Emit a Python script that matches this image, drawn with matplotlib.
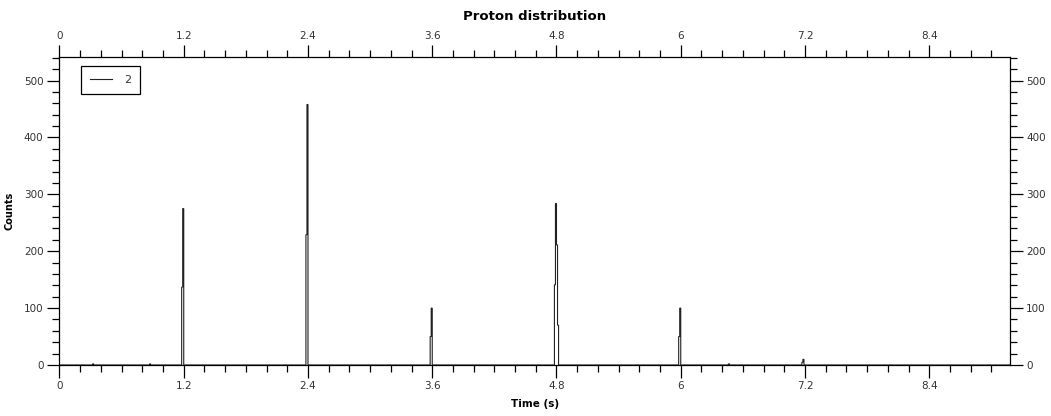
import numpy as np
import matplotlib
matplotlib.use("Agg")
import matplotlib.pyplot as plt
from matplotlib.ticker import MultipleLocator, FixedLocator

# ---- data ----
bin_width = 0.01
t_max = 9.18
# start times (s) of non-empty bins and their counts
bin_starts = [0.32, 0.87,
              1.18, 1.19,
              2.38, 2.39,
              3.58, 3.59,
              4.78, 4.79, 4.80, 4.81,
              5.98, 5.99,
              6.46,
              7.17, 7.18]
bin_counts = [2, 2,
              137, 275,
              229, 458,
              50, 100,
              141, 284, 211, 70,
              50, 100,
              2,
              5, 10]
series_label = "2"
x_ticks = [0, 1.2, 2.4, 3.6, 4.8, 6.0, 7.2, 8.4]
x_tick_labels = ["0", "1.2", "2.4", "3.6", "4.8", "6", "7.2", "8.4"]
y_ticks = [0, 100, 200, 300, 400, 500]

# ---- build histogram ----
n_bins = int(round(t_max / bin_width))
edges = np.arange(n_bins + 1) * bin_width
counts = np.zeros(n_bins)
for s, c in zip(bin_starts, bin_counts):
    counts[int(round(s / bin_width))] = c

fig = plt.figure(figsize=(10.51, 4.16), dpi=100)
ax = fig.add_axes([0.0566, 0.1226, 0.9044, 0.7397])

ax.stairs(counts, edges, color="#222222", linewidth=0.8, label=series_label)

ax.set_xlim(0, t_max)
ax.set_ylim(0, 541)
ax.xaxis.set_major_locator(FixedLocator(x_ticks))
ax.set_xticklabels(x_tick_labels)
ax.xaxis.set_minor_locator(MultipleLocator(0.2))
ax.yaxis.set_major_locator(FixedLocator(y_ticks))
ax.yaxis.set_minor_locator(MultipleLocator(20))

ax.tick_params(which="both", direction="out", top=True, right=True,
               labeltop=True, labelright=True, colors="black",
               labelcolor="#333333", labelsize=7.5, width=0.9)
ax.tick_params(which="major", length=9, pad=2.5)
ax.tick_params(which="minor", length=5)
for sp in ax.spines.values():
    sp.set_linewidth(0.9)
    sp.set_color("black")

ax.set_title("Proton distribution", fontsize=9.5, fontweight="bold", pad=27)
ax.set_xlabel("Time (s)", fontsize=7.5, fontweight="bold", labelpad=6)
ax.set_ylabel("Counts", fontsize=7, fontweight="bold")
ax.yaxis.set_label_coords(-0.047, 0.5)

leg = ax.legend(loc="upper left", bbox_to_anchor=(0.0226, 0.971),
                borderaxespad=0.0, fancybox=False, framealpha=1,
                edgecolor="black", fontsize=8, handlelength=2.0,
                borderpad=0.8, handletextpad=1.1)
leg.get_frame().set_linewidth(0.9)
for t in leg.get_texts():
    t.set_color("#333333")

fig.savefig("out.png", dpi=100)
